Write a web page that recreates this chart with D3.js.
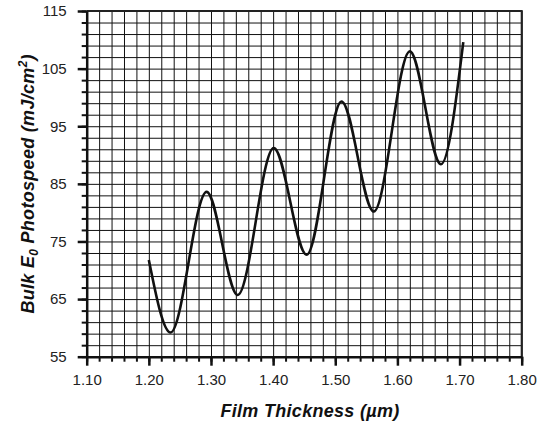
<!DOCTYPE html>
<html lang="en">
<head>
<meta charset="UTF-8">
<title>Bulk E0 Photospeed vs Film Thickness</title>
<style>
  body { margin: 0; background: #fff; font-family: "Liberation Sans", Arial, sans-serif; }
  .title { font-family: "Liberation Sans", Arial, sans-serif; font-weight: bold; font-style: italic; font-size: 18px; letter-spacing: 0.3px; fill: #111; }
</style>
</head>
<body>
<script src="https://d3js.org/d3.v7.min.js"></script>
<div id="chart"></div>
<script>
  // values (peaks/valleys of the swing curve)
  var thickness  = [1.200, 1.235, 1.293, 1.343, 1.401, 1.454, 1.510, 1.562, 1.620, 1.670, 1.706]
  var photospeed = [71.8, 59.2, 83.6, 65.7, 91.2, 72.7, 99.3, 80.2, 108.0, 88.4, 109.6]

  var xMajor = [1.10, 1.20, 1.30, 1.40, 1.50, 1.60, 1.70, 1.80]
  var yMajor = [55, 65, 75, 85, 95, 105, 115]
  var xMinor = d3.range(0, 36).map(function(i){ return +(1.10 + i * 0.02).toFixed(2) })
  var yMinor = d3.range(0, 31).map(function(i){ return 55 + i * 2 })

  var width = 543, height = 426
  var mLeft = 86.7, mRight = 521.7, mTop = 11, mBottom = 356.7

  var svg = d3.select("#chart").append("svg")
    .attr("width", width)
    .attr("height", height)

  var x = d3.scaleLinear().domain([1.10, 1.80]).range([mLeft, mRight])
  var y = d3.scaleLinear().domain([55, 115]).range([mBottom, mTop])

  // grid
  svg.append("g")
    .attr("transform", "translate(0," + mBottom + ")")
    .call(d3.axisBottom(x).tickValues(xMinor).tickSize(-(mBottom - mTop)).tickFormat(""))
    .call(function(g){
      g.select(".domain").remove()
      g.selectAll("line").attr("stroke", "#111").attr("stroke-width", 1)
    })
  svg.append("g")
    .attr("transform", "translate(" + mLeft + ",0)")
    .call(d3.axisLeft(y).tickValues(yMinor).tickSize(-(mRight - mLeft)).tickFormat(""))
    .call(function(g){
      g.select(".domain").remove()
      g.selectAll("line").attr("stroke", "#111").attr("stroke-width", 1)
    })

  // frame top / right
  svg.append("path")
    .attr("d", "M" + mLeft + "," + mTop + "H" + mRight + "V" + mBottom)
    .attr("fill", "none")
    .attr("stroke", "#222")
    .attr("stroke-width", 2)

  // minor ticks
  svg.append("g")
    .attr("transform", "translate(0," + mBottom + ")")
    .call(d3.axisBottom(x).tickValues(xMinor).tickSize(5).tickFormat(""))
    .call(function(g){
      g.select(".domain").remove()
      g.selectAll("line").attr("stroke", "#111").attr("stroke-width", 2)
    })
  svg.append("g")
    .attr("transform", "translate(" + mLeft + ",0)")
    .call(d3.axisLeft(y).tickValues(yMinor).tickSize(5).tickFormat(""))
    .call(function(g){
      g.select(".domain").remove()
      g.selectAll("line").attr("stroke", "#111").attr("stroke-width", 2)
    })

  // major ticks + labels
  var xAxis = svg.append("g")
    .attr("transform", "translate(0," + mBottom + ")")
    .call(d3.axisBottom(x).tickValues(xMajor).tickSize(9).tickSizeOuter(0).tickPadding(9).tickFormat(d3.format(".2f")))
  xAxis.select(".domain").attr("stroke", "#111").attr("stroke-width", 2.5)
  xAxis.selectAll("line").attr("stroke", "#111").attr("stroke-width", 2.5)
  xAxis.selectAll("text").attr("font-size", 15).attr("font-family", "Liberation Sans, Arial, sans-serif").attr("fill", "#222")

  var yAxis = svg.append("g")
    .attr("transform", "translate(" + mLeft + ",0)")
    .call(d3.axisLeft(y).tickValues(yMajor).tickSize(9).tickSizeOuter(0).tickPadding(11))
  yAxis.select(".domain").attr("stroke", "#111").attr("stroke-width", 2.5)
  yAxis.selectAll("line").attr("stroke", "#111").attr("stroke-width", 2.5)
  yAxis.selectAll("text").attr("font-size", 15).attr("font-family", "Liberation Sans, Arial, sans-serif").attr("fill", "#222")

  // curve
  var pts = thickness.map(function(t, i){ return [t, photospeed[i]] })
  svg.append("path")
    .datum(pts)
    .attr("fill", "none")
    .attr("stroke", "#111")
    .attr("stroke-width", 2.6)
    .attr("d", d3.line()
      .x(function(d){ return x(d[0]) })
      .y(function(d){ return y(d[1]) })
      .curve(d3.curveMonotoneX))

  // axis titles
  svg.append("text")
    .attr("class", "title")
    .attr("x", 310)
    .attr("y", 417)
    .attr("text-anchor", "middle")
    .text("Film Thickness (\u00b5m)")

  var yt = svg.append("text")
    .attr("class", "title")
    .attr("text-anchor", "middle")
    .attr("transform", "translate(34," + ((mTop + mBottom) / 2) + ") rotate(-90)")
  yt.append("tspan").text("Bulk E")
  yt.append("tspan").attr("font-size", "12px").attr("dy", 4).text("0")
  yt.append("tspan").attr("dy", -4).text(" Photospeed (mJ/cm")
  yt.append("tspan").attr("font-size", "12px").attr("dy", -7).text("2")
  yt.append("tspan").attr("dy", 7).text(")")
</script>
</body>
</html>
